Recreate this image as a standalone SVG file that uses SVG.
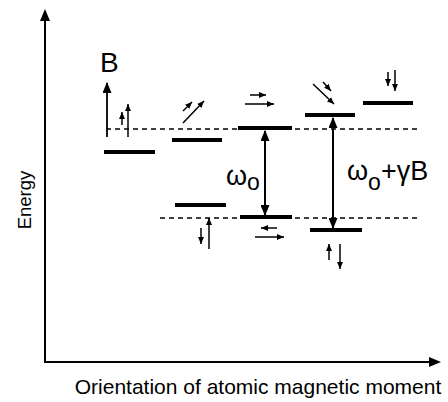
<svg xmlns="http://www.w3.org/2000/svg" width="448" height="402" viewBox="0 0 448 402">
<style>
text{font-family:"Liberation Sans",Arial,sans-serif;fill:#000}
.ax{stroke:#000;stroke-width:2;fill:none}
.lvl{stroke:#000;stroke-width:4;fill:none}
.dash{stroke:#000;stroke-width:1.4;stroke-dasharray:5,4;fill:none}
.arr{stroke:#000;stroke-width:1.8;fill:none;marker-end:url(#ah)}
.sarr{stroke:#000;stroke-width:1.5;fill:none;marker-end:url(#sh)}
.dbl{stroke:#000;stroke-width:2;fill:none;marker-start:url(#ah);marker-end:url(#ah)}
</style>
<defs>
<marker id="ah" markerUnits="userSpaceOnUse" markerWidth="11" markerHeight="9" refX="10" refY="4.5" orient="auto-start-reverse"><path d="M0,0 L11,4.5 L0,9 z" fill="#000"/></marker>
<marker id="sh" markerUnits="userSpaceOnUse" markerWidth="7" markerHeight="6" refX="7" refY="3" orient="auto"><path d="M0,0 L7,3 L0,6 z" fill="#000"/></marker>
</defs>
<rect width="448" height="402" fill="#fff"/>
<g id="axes">
<line class="ax" x1="45" y1="362" x2="45" y2="20"/>
<path d="M40,21 L45,9 L50,21 z" fill="#000"/>
<line class="ax" x1="44" y1="362" x2="430" y2="362"/>
<path d="M429,357 L441,362 L429,367 z" fill="#000"/>
<text transform="translate(31,200) rotate(-90)" font-size="18.5" text-anchor="middle">Energy</text>
<text x="258" y="394" font-size="21" text-anchor="middle">Orientation of atomic magnetic moment</text>
</g>
<g id="field">
<text x="100" y="72" font-size="28">B</text>
<line class="arr" x1="107" y1="137" x2="107" y2="83"/>
</g>
<g id="reference-lines">
<line class="dash" x1="106" y1="129" x2="418" y2="129"/>
<line class="dash" x1="160" y1="218" x2="418" y2="218"/>
</g>
<g id="level1">
<line class="lvl" x1="104" y1="152" x2="155" y2="152"/>
<line class="sarr" x1="122" y1="125" x2="122" y2="112"/>
<line class="sarr" x1="128" y1="137" x2="128" y2="104"/>
</g>
<g id="level2">
<line class="lvl" x1="172" y1="140" x2="222" y2="140"/>
<line class="sarr" x1="183" y1="111" x2="192" y2="102"/>
<line class="sarr" x1="183" y1="123" x2="204" y2="101"/>
</g>
<g id="level3">
<line class="lvl" x1="238" y1="128" x2="292" y2="128"/>
<line class="sarr" x1="250" y1="95" x2="266" y2="95"/>
<line class="sarr" x1="245" y1="104" x2="274" y2="104"/>
</g>
<g id="level4">
<line class="lvl" x1="305" y1="115" x2="355" y2="115"/>
<line class="sarr" x1="323" y1="82" x2="331" y2="91"/>
<line class="sarr" x1="313" y1="84" x2="334" y2="104"/>
</g>
<g id="level5">
<line class="lvl" x1="363" y1="103" x2="413" y2="103"/>
<line class="sarr" x1="388" y1="72" x2="388" y2="86"/>
<line class="sarr" x1="395" y1="70" x2="395" y2="91"/>
</g>
<g id="level6">
<line class="lvl" x1="175" y1="205" x2="226" y2="205"/>
<line class="sarr" x1="201" y1="228" x2="201" y2="244"/>
<line class="sarr" x1="209" y1="249" x2="209" y2="218"/>
</g>
<g id="level7">
<line class="lvl" x1="240" y1="217" x2="292" y2="217"/>
<line class="sarr" x1="277" y1="228" x2="261" y2="228"/>
<line class="sarr" x1="255" y1="237" x2="284" y2="237"/>
</g>
<g id="level8">
<line class="lvl" x1="310" y1="230" x2="362" y2="230"/>
<line class="sarr" x1="329" y1="260" x2="329" y2="244"/>
<line class="sarr" x1="340" y1="244" x2="340" y2="269"/>
</g>
<g id="connectors">
<line class="dbl" x1="265" y1="131" x2="265" y2="215"/>
<line class="dbl" x1="333" y1="118" x2="333" y2="228"/>
</g>
<g id="labels">
<text x="226" y="185" font-size="27">ω<tspan dy="5" font-size="23">o</tspan></text>
<text x="347" y="180" font-size="27">ω<tspan dy="10" font-size="23">o</tspan><tspan dy="-10">+γB</tspan></text>
</g>
</svg>
